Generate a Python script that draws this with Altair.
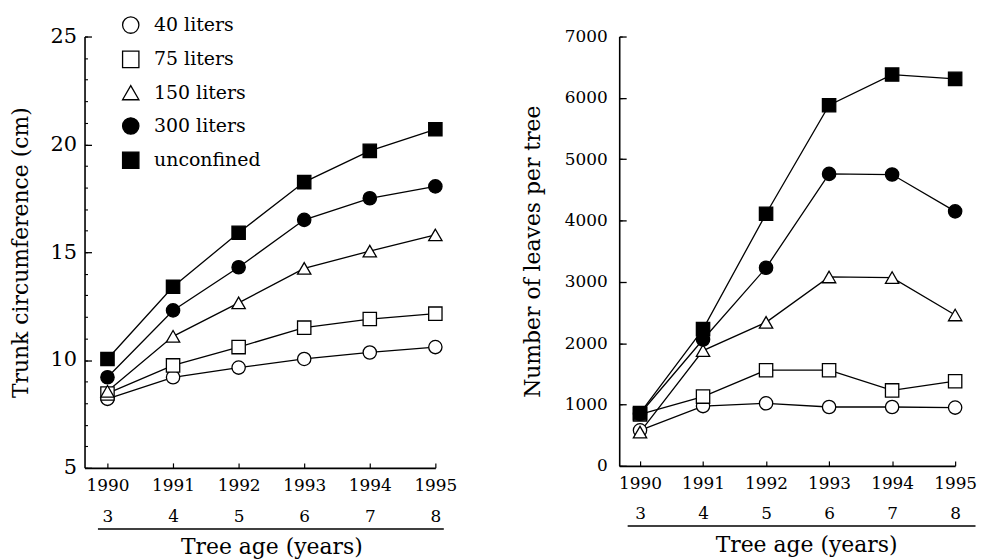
import altair as alt
import pandas as pd

FONT = "'DejaVu Serif', serif"

years = [1990, 1991, 1992, 1993, 1994, 1995]
ages = [3, 4, 5, 6, 7, 8]
series = ["40 liters", "75 liters", "150 liters", "300 liters", "unconfined"]
# legend labels as printed (the two-digit volumes are indented by one figure)
legend_labels = ["\u2007\u200940 liters", "\u2007\u200975 liters", "150 liters",
                 "300 liters", "unconfined"]
shapes = ["circle", "square", "triangle-up", "circle", "square"]
fills = ["white", "white", "white", "black", "black"]
strokes = ["black", "black", "black", "black", "black"]

# Trunk circumference (cm)
circ_40 = [8.2, 9.2, 9.65, 10.05, 10.35, 10.6]
circ_75 = [8.45, 9.75, 10.6, 11.5, 11.9, 12.15]
circ_150 = [8.55, 11.1, 12.65, 14.25, 15.05, 15.8]
circ_300 = [9.2, 12.3, 14.3, 16.5, 17.5, 18.05]
circ_unc = [10.05, 13.4, 15.9, 18.25, 19.7, 20.7]

# Number of leaves per tree
leaves_40 = [580, 975, 1020, 960, 960, 950]
leaves_75 = [840, 1130, 1560, 1560, 1230, 1380]
leaves_150 = [550, 1880, 2340, 3080, 3070, 2460]
leaves_300 = [850, 2060, 3230, 4760, 4750, 4150]
leaves_unc = [860, 2230, 4110, 5880, 6380, 6310]

circ_ticks = [5, 10, 15, 20, 25]
circ_minor = list(range(5, 26))
leaf_ticks = [0, 1000, 2000, 3000, 4000, 5000, 6000, 7000]


def frame(values_by_series):
    rows = []
    for s, lab, vals in zip(series, legend_labels, values_by_series):
        for y, a, v in zip(years, ages, vals):
            rows.append({"series": s, "label": lab, "year": y, "age": a, "value": v})
    return pd.DataFrame(rows)


legend = alt.Legend(
    orient="none", legendX=37, legendY=-21, title=None,
    symbolSize=270, symbolStrokeWidth=1.3,
    symbolOpacity=1, labelFontSize=19, labelFont=FONT, labelColor="black",
    rowPadding=11.5, labelOffset=14, padding=0,
)


def ax(**kw):
    base = dict(labelFont=FONT, titleFont=FONT, labelColor="black", titleColor="black",
                domainColor="black", tickColor="black", titleFontWeight="normal",
                labelFontWeight="normal", grid=False, labelOverlap=False, labelFlush=False)
    base.update(kw)
    return alt.Axis(**base)


def panel(df, W, H, ydom, ytitle, ymajor, yminor, ylabsize, ylabpad, ytitlepad,
          xdom, agedom, agerange, ageoffset, xtitleX):
    base = alt.Chart(df)
    xs = alt.Scale(domain=xdom, nice=False, zero=False)
    ys = alt.Scale(domain=ydom, nice=False, zero=False)

    lines = base.mark_line(color="black", strokeWidth=1.3).encode(
        x=alt.X("year:Q", scale=xs, axis=ax(
            values=years, format="d", title="Tree age (years)", ticks=False, tickSize=0,
            labelPadding=10, titlePadding=43, titleX=xtitleX, labelFontSize=17,
            titleFontSize=22, domainWidth=1.6)),
        y=alt.Y("value:Q", scale=ys, axis=ax(
            values=ymajor, format="d", title=ytitle, ticks=False, tickSize=0,
            labelPadding=ylabpad, titlePadding=ytitlepad, labelFontSize=ylabsize,
            titleFontSize=22, domainWidth=1.6)),
        detail="series:N",
    )

    points = base.mark_point(filled=True, opacity=1, size=180, strokeWidth=1.3).encode(
        x=alt.X("year:Q", scale=xs, axis=None),
        y=alt.Y("value:Q", scale=ys, axis=None),
        shape=alt.Shape("label:N", scale=alt.Scale(domain=legend_labels, range=shapes), legend=legend),
        fill=alt.Fill("label:N", scale=alt.Scale(domain=legend_labels, range=fills), legend=legend),
        stroke=alt.Stroke("label:N", scale=alt.Scale(domain=legend_labels, range=strokes), legend=legend),
    )

    age_layer = base.mark_point(opacity=0).encode(
        x=alt.X("age:Q", scale=alt.Scale(domain=agedom, range=agerange, nice=False, zero=False),
                axis=ax(orient="top", offset=ageoffset, values=ages, format="d",
                        ticks=False, tickSize=0, labelPadding=3, title=None,
                        labelFontSize=17, domainWidth=1.4)),
        y=alt.Y("value:Q", scale=ys, axis=None),
    )

    ymaj = base.mark_point(opacity=0).encode(
        x=alt.X("year:Q", scale=xs, axis=None),
        y=alt.Y("value:Q", scale=ys, axis=ax(
            orient="right", offset=-W, values=ymajor, labels=False, domain=False,
            tickSize=7, tickWidth=1.3, title=None)),
    )
    ymin = base.mark_point(opacity=0).encode(
        x=alt.X("year:Q", scale=xs, axis=None),
        y=alt.Y("value:Q", scale=ys, axis=ax(
            orient="right", offset=-W, values=yminor, labels=False, domain=False,
            tickSize=3, tickWidth=1.1, title=None)),
    )
    xt = base.mark_point(opacity=0).encode(
        x=alt.X("year:Q", scale=xs, axis=ax(
            orient="top", offset=-H, values=years, labels=False, domain=False,
            tickSize=5, tickWidth=1.2, title=None)),
        y=alt.Y("value:Q", scale=ys, axis=None),
    )

    return alt.layer(lines, points, age_layer, ymaj, ymin, xt).resolve_scale(
        x="independent", y="independent").properties(width=W, height=H)


left = panel(frame([circ_40, circ_75, circ_150, circ_300, circ_unc]),
             353, 434, [5, 25], "Trunk circumference (cm)", circ_ticks, circ_minor,
             21, 8, 18, [1989.65, 1995], [2.848, 8.121], [13, 361], -495, 188)

right = panel(frame([leaves_40, leaves_75, leaves_150, leaves_300, leaves_unc]),
              338, 432, [0, 7000], "Number of leaves per tree", leaf_ticks, leaf_ticks,
              17, 12, 20, [1989.67, 1995], [2.795, 8.315], [8, 358], -492, 188)

chart = alt.hconcat(left, right, spacing=185, bounds="flush").properties(
    padding={"left": 1, "top": 6, "right": 0, "bottom": 0}
).configure_view(stroke=None).configure_axis(
    labelFont=FONT, titleFont=FONT, labelColor="black", titleColor="black",
    domainColor="black", tickColor="black", titleFontWeight="normal",
    labelFontWeight="normal",
).configure_legend(labelFont=FONT)

chart.save("out.html", embed_options={"renderer": "svg", "actions": False})
